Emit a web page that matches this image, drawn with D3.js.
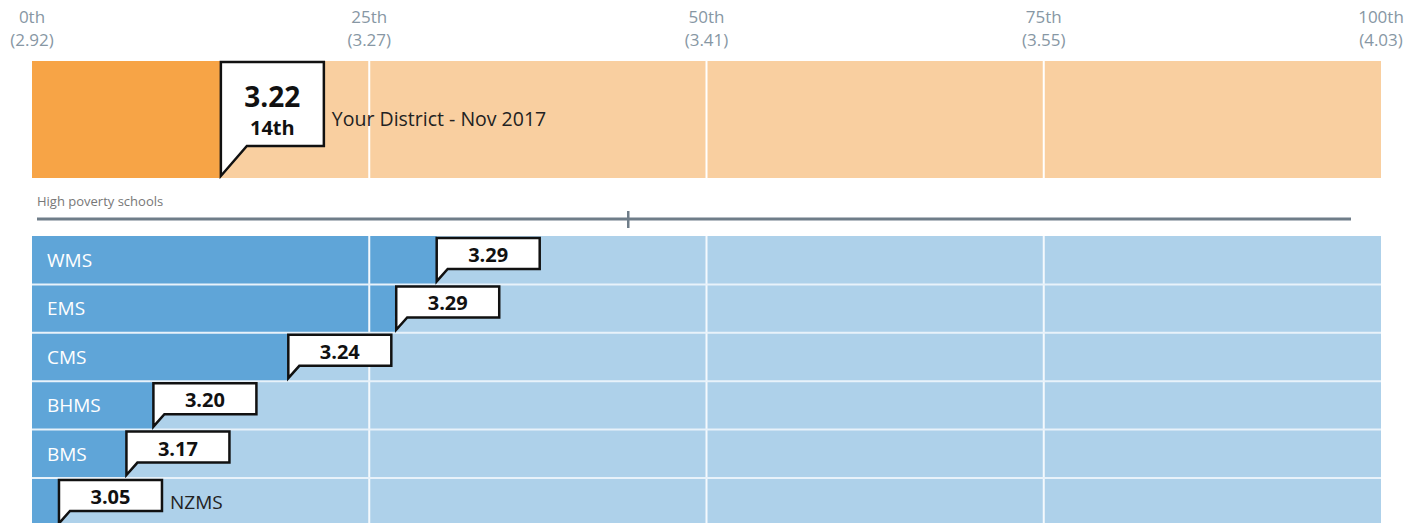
<!DOCTYPE html>
<html>
<head>
<meta charset="utf-8">
<script src="https://cdn.jsdelivr.net/npm/d3@7"></script>
<style>
  body { margin: 0; background: #fff; }
  svg { display: block; font-family: "Open Sans", sans-serif; }
</style>
</head>
<body>
<svg width="1421" height="523"></svg>
<script>
// percentile axis
const tickPercentiles = [0, 25, 50, 75, 100]
const tickLabels = ["0th", "25th", "50th", "75th", "100th"]
const tickScores = ["(2.92)", "(3.27)", "(3.41)", "(3.55)", "(4.03)"]

// district
const districtScore = "3.22"
const districtPercentile = 14
const districtLabel = "Your District - Nov 2017"

// high poverty schools
const groupLabel = "High poverty schools"
const groupMarker = 44.2
const schools = ["WMS", "EMS", "CMS", "BHMS", "BMS", "NZMS"]
const schoolScores = ["3.29", "3.29", "3.24", "3.20", "3.17", "3.05"]
const schoolPercentiles = [30, 27, 19, 9, 7, 2]

const svg = d3.select("svg")
const x = d3.scaleLinear().domain([0, 100]).range([32, 1381])

const boxW = 103

// top tick labels
const ticks = svg.append("g").attr("fill", "#8797a4").style("font-size", "17px").attr("text-anchor", "middle")
tickPercentiles.forEach((p, i) => {
  ticks.append("text").attr("x", x(p)).attr("y", 23).text(tickLabels[i])
  ticks.append("text").attr("x", x(p)).attr("y", 46).text(tickScores[i])
})

// district band
const bandTop = 61, bandH = 117
svg.append("rect").attr("x", x(0)).attr("y", bandTop).attr("width", x(100) - x(0)).attr("height", bandH).attr("fill", "#f9cfa0")
svg.append("rect").attr("x", x(0)).attr("y", bandTop).attr("width", x(districtPercentile) - x(0)).attr("height", bandH).attr("fill", "#f7a446")
svg.selectAll(".vgrid1").data([25, 50, 75]).join("line")
  .attr("x1", d => x(d)).attr("x2", d => x(d)).attr("y1", bandTop).attr("y2", bandTop + bandH)
  .attr("stroke", "#fff").attr("stroke-width", 2)

function callout(g, px, top, h, tipY, dx) {
  g.append("path")
    .attr("d", `M${px},${top}H${px + boxW}V${top + h}H${px + dx}L${px},${tipY}Z`)
    .attr("fill", "#fff").attr("stroke", "#111").attr("stroke-width", 2.5).attr("stroke-linejoin", "miter")
}

const dg = svg.append("g")
const dx0 = x(districtPercentile)
callout(dg, dx0, bandTop + 1, 84, bandTop + bandH - 2, 26)
dg.append("text").attr("x", dx0 + boxW / 2).attr("y", 107).attr("text-anchor", "middle")
  .style("font-size", "28px").style("font-weight", "bold").attr("fill", "#111").text(districtScore)
dg.append("text").attr("x", dx0 + boxW / 2).attr("y", 135).attr("text-anchor", "middle")
  .style("font-size", "20px").style("font-weight", "bold").attr("fill", "#111").text(districtPercentile + "th")
dg.append("text").attr("x", dx0 + boxW + 8).attr("y", 126)
  .style("font-size", "19.5px").attr("fill", "#222").text(districtLabel)

// group header
svg.append("text").attr("x", 37).attr("y", 206).style("font-size", "13px").attr("fill", "#777").text(groupLabel)
svg.append("line").attr("x1", 37).attr("x2", 1351).attr("y1", 219).attr("y2", 219)
  .attr("stroke", "#6f7d89").attr("stroke-width", 3)
svg.append("line").attr("x1", x(groupMarker)).attr("x2", x(groupMarker)).attr("y1", 211).attr("y2", 228)
  .attr("stroke", "#6f7d89").attr("stroke-width", 2.5)

// school rows
const rowH = 48.4
const y = d3.scaleBand().domain(schools).range([236, 236 + rowH * schools.length])

const rows = svg.selectAll(".row").data(schools).join("g")
rows.append("rect").attr("x", x(0)).attr("y", d => y(d)).attr("width", x(100) - x(0)).attr("height", y.bandwidth())
  .attr("fill", "#aed1ea")
rows.append("rect").attr("x", x(0)).attr("y", d => y(d)).attr("width", (d, i) => x(schoolPercentiles[i]) - x(0))
  .attr("height", y.bandwidth()).attr("fill", "#5fa5d8")
svg.selectAll(".vgrid2").data([25, 50, 75]).join("line")
  .attr("x1", d => x(d)).attr("x2", d => x(d)).attr("y1", 236).attr("y2", 236 + rowH * schools.length)
  .attr("stroke", "#f4f9fd").attr("stroke-width", 2)
svg.selectAll(".hsep").data(schools.slice(1)).join("line")
  .attr("x1", x(0)).attr("x2", x(100)).attr("y1", d => y(d)).attr("y2", d => y(d))
  .attr("stroke", "#e8f2fa").attr("stroke-width", 2)

schools.forEach((s, i) => {
  const g = svg.append("g")
  const top = y(s)
  const px = x(schoolPercentiles[i])
  callout(g, px, top + 2, 31, top + y.bandwidth() - 3, 11)
  g.append("text").attr("x", px + boxW / 2).attr("y", top + 26).attr("text-anchor", "middle")
    .style("font-size", "20px").style("font-weight", "bold").attr("fill", "#111").text(schoolScores[i])
  const inside = px - x(0) > 70
  g.append("text")
    .attr("x", inside ? 47 : px + boxW + 8).attr("y", top + 31)
    .style("font-size", "19px").attr("fill", inside ? "#fff" : "#222").text(s)
})
</script>
</body>
</html>
